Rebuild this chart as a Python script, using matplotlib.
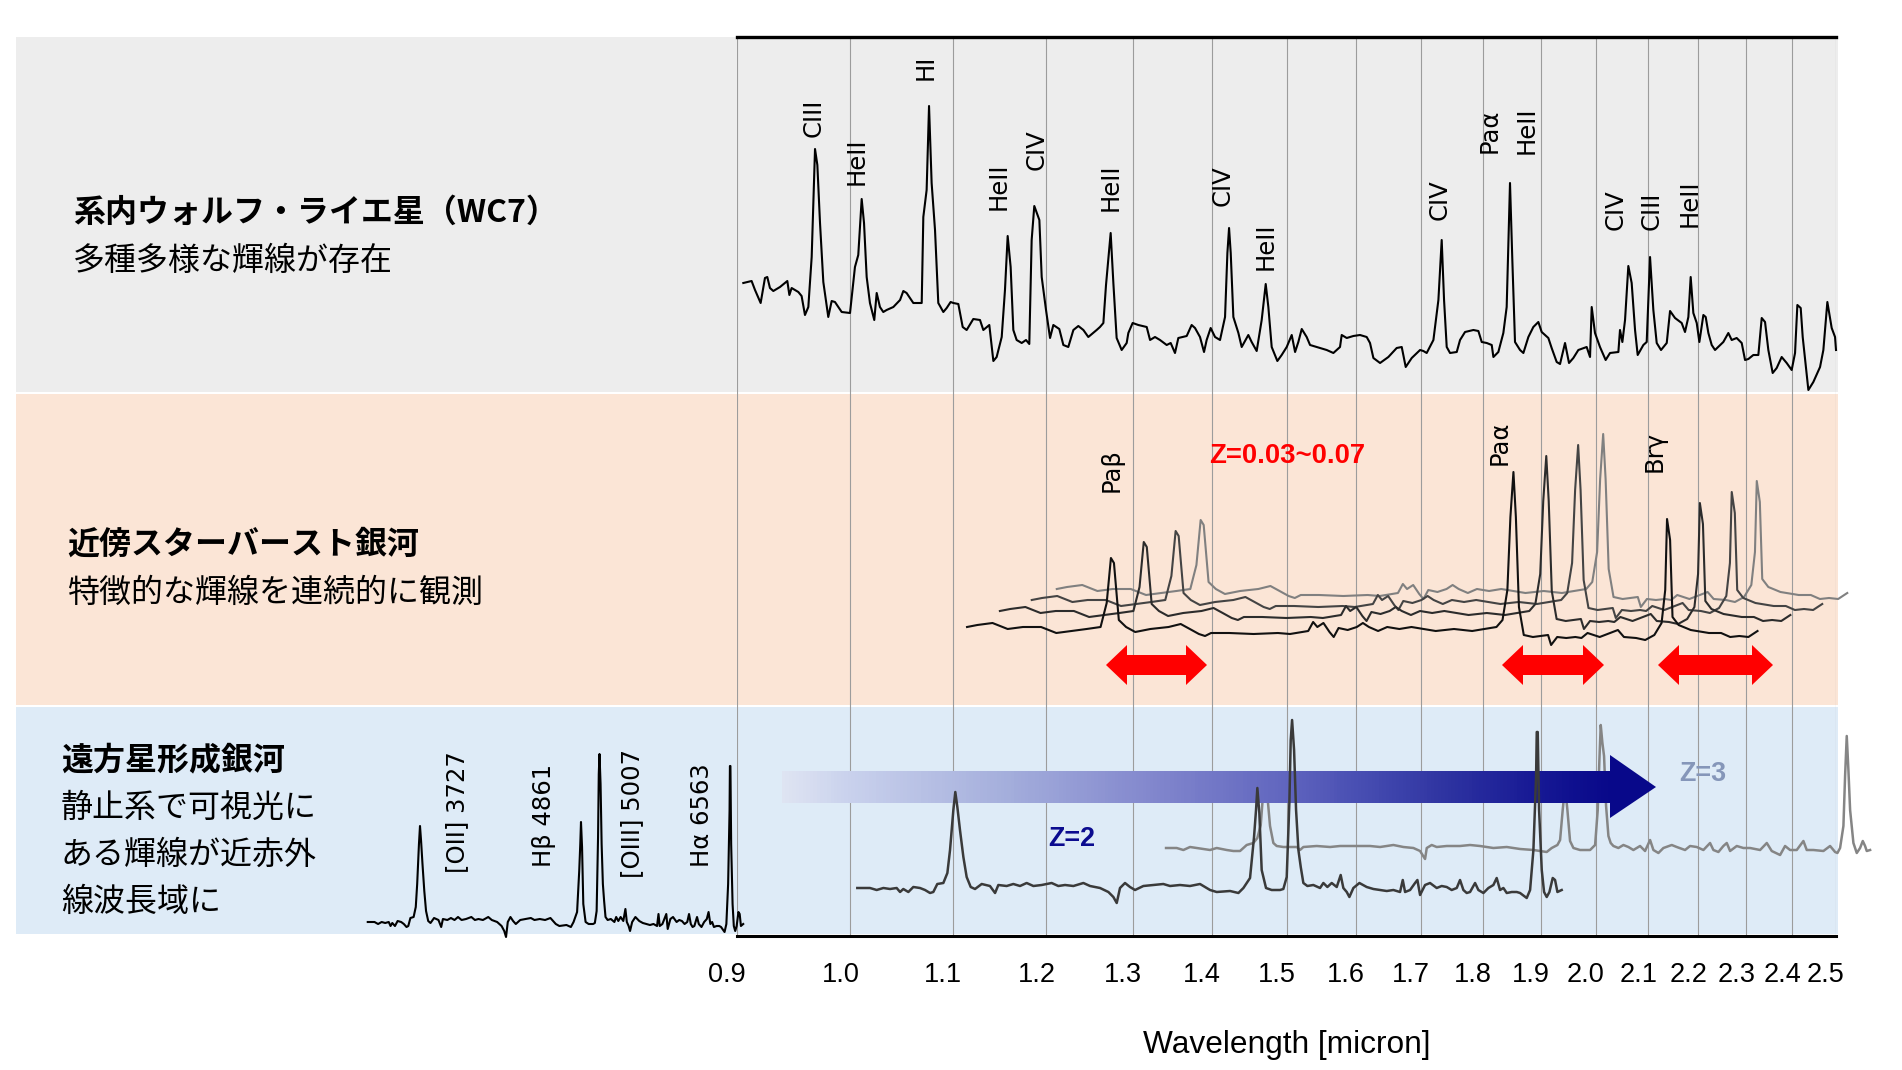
import numpy as np
import matplotlib
matplotlib.use("Agg")
import matplotlib.pyplot as plt
import matplotlib.transforms as mtransforms
from matplotlib import font_manager
from matplotlib.colors import LinearSegmentedColormap
from matplotlib.patches import Rectangle, Polygon
from matplotlib.collections import PolyCollection

# ---------------- data ----------------
# wavelength in micron, flux in arbitrary units (relative to each continuum)

ticks = [0.9, 1.0, 1.1, 1.2, 1.3, 1.4, 1.5, 1.6, 1.7, 1.8, 1.9, 2.0, 2.1, 2.2, 2.3, 2.4, 2.5]

# Wolf-Rayet star (WC7)
wr_wl = [
    0.9053, 0.9123, 0.9152, 0.9200, 0.9237, 0.9257, 0.9280, 0.9309, 0.9367, 0.9431,
    0.9449, 0.9469, 0.9528, 0.9557, 0.9587, 0.9617, 0.9647, 0.9677, 0.9698, 0.9722,
    0.9752, 0.9797, 0.9828, 0.9858, 0.9920, 0.9997, 1.0043, 1.0074, 1.0106, 1.0128,
    1.0153, 1.0184, 1.0225, 1.0248, 1.0279, 1.0311, 1.0343, 1.0408, 1.0473, 1.0505,
    1.0537, 1.0603, 1.0686, 1.0702, 1.0735, 1.0759, 1.0785, 1.0819, 1.0852, 1.0903,
    1.0937, 1.0977, 1.1005, 1.1056, 1.1101, 1.1142, 1.1211, 1.1281, 1.1316, 1.1379,
    1.1422, 1.1457, 1.1511, 1.1546, 1.1575, 1.1607, 1.1636, 1.1672, 1.1727, 1.1774,
    1.1810, 1.1836, 1.1865, 1.1921, 1.1947, 1.1995, 1.2040, 1.2077, 1.2144, 1.2190,
    1.2246, 1.2304, 1.2361, 1.2419, 1.2476, 1.2573, 1.2612, 1.2652, 1.2683, 1.2738,
    1.2770, 1.2809, 1.2869, 1.2929, 1.2949, 1.3001, 1.3070, 1.3172,
    1.3213, 1.3274, 1.3336, 1.3419, 1.3469, 1.3523, 1.3565, 1.3671, 1.3734, 1.3777,
    1.3841, 1.3893, 1.3927, 1.3979, 1.4036, 1.4101, 1.4167, 1.4198, 1.4220, 1.4242,
    1.4277, 1.4344, 1.4388, 1.4477, 1.4522, 1.4590, 1.4658, 1.4713, 1.4749, 1.4795,
    1.4873, 1.4933, 1.5003, 1.5073, 1.5120, 1.5166, 1.5214, 1.5284, 1.5332, 1.5475,
    1.5571, 1.5668, 1.5765, 1.5790, 1.5864, 1.5962, 1.6061, 1.6161, 1.6211, 1.6262,
    1.6363, 1.6490, 1.6618, 1.6696, 1.6758, 1.6852, 1.6983, 1.7035, 1.7088, 1.7195,
    1.7275, 1.7328, 1.7366, 1.7409, 1.7463, 1.7572, 1.7626, 1.7708, 1.7846, 1.7929,
    1.7985, 1.8069, 1.8153, 1.8181,
    1.8265, 1.8350, 1.8407, 1.8464, 1.8504, 1.8550, 1.8637, 1.8695, 1.8782, 1.8869,
    1.8957, 1.9016, 1.9134, 1.9193, 1.9283, 1.9343, 1.9433, 1.9505, 1.9584, 1.9675,
    1.9828, 1.9890, 1.9921, 1.9982, 2.0075, 2.0181, 2.0263, 2.0421, 2.0452, 2.0497,
    2.0548, 2.0611, 2.0675, 2.0740, 2.0791, 2.0901, 2.0966, 2.1031, 2.1096, 2.1162,
    2.1247, 2.1360, 2.1426, 2.1525, 2.1659, 2.1726, 2.1794, 2.1841, 2.1895, 2.1964,
    2.2018, 2.2100, 2.2148, 2.2203, 2.2272, 2.2341, 2.2514, 2.2619, 2.2690, 2.2795,
    2.2902, 2.2973, 2.3044, 2.3151, 2.3259, 2.3332, 2.3404, 2.3476, 2.3571, 2.3659,
    2.3769, 2.3880, 2.3991, 2.4066, 2.4118, 2.4193, 2.4238, 2.4366, 2.4479, 2.4632,
    2.4708, 2.4800, 2.4900, 2.4978, 2.5000,
]
wr_flux = [
    17, 19, 10, -3, 22, 23, 12, 9, 13, 19,
    5, 12, 8, 4, -15, -7, 43, 151, 135, 77,
    18, -17, -1, -2, -12, -13, 33, 45, 101, 77,
    23, -3, -20, 7, -7, -12, -10, -7, 0, 9,
    7, -3, -3, 83, 110, 194, 117, 70, -3, -12,
    -8, -2, -3, -4, -27, -30, -19, -20, -30, -25,
    -61, -57, -37, 10, 64, 33, -30, -40, -43, -40,
    -44, 60, 94, 80, 23, -10, -38, -25, -29, -45,
    -47, -30, -26, -30, -37, -30, -27, -23, 15, 67,
    17, -38, -50, -43, -33, -23, -25, -27,
    -40, -37, -40, -45, -43, -53, -38, -36, -25, -28,
    -37, -52, -40, -28, -37, -40, -17, 47, 72, 47,
    -17, -33, -47, -35, -42, -51, -20, 16, -7, -47,
    -61, -55, -47, -35, -52, -42, -29, -37, -45, -48,
    -50, -53, -47, -35, -38, -36, -35, -37, -43, -58,
    -63, -57, -48, -47, -67, -58, -50, -51, -53, -40,
    0, 60, 0, -47, -53, -52, -40, -32, -30, -31,
    -42, -43, -45, -57,
    -52, -33, -7, 117, 40, -42, -50, -53, -37, -27,
    -22, -32, -38, -48, -62, -64, -43, -63, -58, -50,
    -47, -57, -7, -33, -47, -60, -53, -52, -30, -42,
    -20, 34, 17, -30, -55, -45, -42, 43, -10, -43,
    -50, -43, -11, -18, -23, -32, -17, 23, -13, -23,
    -42, -15, -17, -33, -45, -50, -42, -33, -40, -38,
    -43, -60, -59, -55, -55, -18, -22, -50, -73, -68,
    -57, -63, -70, -53, -5, -8, -37, -90, -82, -67,
    -50, -2, -28, -37, -50,
]
wr_labels = ["CIII", "HeII", "HI", "HeII", "CIV", "HeII", "CIV", "HeII",
             "CIV", "Paα", "HeII", "CIV", "CIII", "HeII"]

# nearby starburst galaxy template, repeated at increasing redshift
sb_wl = [
    1.1146, 1.1253, 1.1413, 1.1575, 1.1740, 1.1940, 1.2110, 1.2282, 1.2456, 1.2619,
    1.2691, 1.2741, 1.2777, 1.2835, 1.2922, 1.3032, 1.3217, 1.3443, 1.3595, 1.3711,
    1.3827, 1.3906, 1.3984, 1.4223, 1.4548, 1.4880, 1.5049, 1.5306, 1.5376, 1.5436,
    1.5524, 1.5612, 1.5673, 1.5744, 1.5878, 1.6013, 1.6104, 1.6195, 1.6333, 1.6472,
    1.6659, 1.6848, 1.7039, 1.7232, 1.7527, 1.7826, 1.8028, 1.8233, 1.8336, 1.8419,
    1.8471, 1.8523, 1.8565, 1.8618, 1.8702, 1.8861, 1.9129, 1.9183, 1.9292, 1.9455,
    1.9621, 1.9732, 1.9844, 2.0069, 2.0412, 2.0527, 2.0761, 2.0937, 2.1115, 2.1258,
    2.1330, 2.1366, 2.1427, 2.1475, 2.1597, 2.1842, 2.2215, 2.2467, 2.2658, 2.2851,
    2.3045, 2.3241,
]
sb_flux = [
    3, 5, 7, 1, 3, 3, -3, -1, 1, 3,
    27, 72, 67, 10, 3, -2, 1, 3, 6, 1,
    -4, -6, -3, -3, -4, -3, -4, -1, 8, 3,
    7, -2, -7, 2, 0, 3, 7, 3, -1, 3,
    1, 3, 1, -1, 1, -1, 1, 3, 10, 40,
    113, 158, 113, 23, -5, -7, -5, -15, -7, -8,
    -7, -8, -3, -7, 0, -7, -8, -10, -5, 7,
    40, 111, 90, 13, 5, 0, -3, -3, -7, -6,
    -7, -1,
]
sb_shift = [1.000, 1.031, 1.062, 1.087]     # relative (1+z) of the four copies
sb_labels = ["Paβ", "Paα", "Brγ"]

# distant star-forming galaxy at z=2
hz2_wl = [
    1.0065, 1.0184, 1.0248, 1.0312, 1.0376, 1.0440, 1.0473, 1.0505, 1.0554, 1.0603,
    1.0669, 1.0719, 1.0769, 1.0802, 1.0842, 1.0903, 1.0944, 1.0971, 1.1005, 1.1025,
    1.1046, 1.1073, 1.1108, 1.1142, 1.1184, 1.1229, 1.1299, 1.1386, 1.1440, 1.1475,
    1.1564, 1.1636, 1.1709, 1.1781, 1.1855, 1.1947, 1.2058, 1.2133, 1.2209, 1.2304,
    1.2419, 1.2496, 1.2613, 1.2711, 1.2770, 1.2810, 1.2849, 1.2909, 1.2969, 1.3030,
    1.3131, 1.3254, 1.3377, 1.3461, 1.3586, 1.3713, 1.3841, 1.3971, 1.4058, 1.4233,
    1.4344, 1.4411, 1.4500, 1.4554, 1.4581, 1.4599, 1.4626, 1.4658, 1.4717, 1.4795,
    1.4910, 1.4956, 1.5003, 1.5040, 1.5059, 1.5078, 1.5106, 1.5134, 1.5167, 1.5200,
    1.5237, 1.5294, 1.5379, 1.5475, 1.5523, 1.5581, 1.5644, 1.5717, 1.5775, 1.5814,
    1.5864, 1.5903, 1.5962, 1.6052, 1.6161, 1.6262, 1.6363, 1.6465, 1.6567, 1.6670,
    1.6712, 1.6748, 1.6826, 1.6904, 1.6941, 1.6983, 1.7062, 1.7141, 1.7248, 1.7328,
    1.7409, 1.7490, 1.7572, 1.7626, 1.7681, 1.7736, 1.7791, 1.7874, 1.7929, 1.8013,
    1.8097, 1.8181, 1.8237, 1.8294, 1.8351, 1.8408, 1.8494, 1.8580, 1.8638, 1.8753,
    1.8812, 1.8870, 1.8917, 1.8929, 1.8946, 1.8970, 1.9017, 1.9058, 1.9105, 1.9153,
    1.9212, 1.9254, 1.9296, 1.9373,
]
hz2_flux = [
    -2, -2, -4, -2, -3, -2, -6, -3, -6, -1,
    -2, -4, -7, -6, 2, 3, 13, 36, 76, 94,
    79, 56, 29, 9, -1, -3, 2, 0, -7, 1,
    0, 2, 0, 3, 0, 1, 3, 0, 1, 0,
    3, 0, -2, -6, -11, -17, -2, 3, -1, -4,
    0, 1, 2, 0, 1, 0, 2, -4, -6, -5,
    -7, -2, 8, 49, 76, 98, 73, 16, -2, -4,
    -4, -3, 9, 83, 146, 166, 136, 76, 36, 19,
    3, 0, 1, -2, 3, -1, 3, -1, 11, -2,
    -6, -11, -2, 3, -1, -3, -4, -5, -4, -6,
    6, -6, -4, 3, 6, -9, 1, 3, -2, 0,
    -1, -4, -2, 6, -4, -7, -6, 3, -4, -7,
    -2, 1, 8, -4, -2, -7, -6, -6, -7, -12,
    -4, 36, 109, 154, 154, 76, 16, -6, -11, -6,
    8, 6, -6, -4,
]
# distant star-forming galaxy at z=3
hz3_wl = [
    1.3411, 1.3544, 1.3629, 1.3713, 1.3799, 1.3971, 1.4058, 1.4189, 1.4277, 1.4366,
    1.4455, 1.4545, 1.4599, 1.4645, 1.4681, 1.4704, 1.4736, 1.4772, 1.4818, 1.4864,
    1.4956, 1.5143, 1.5190, 1.5237, 1.5427, 1.5620, 1.5766, 1.5913, 1.6052, 1.6212,
    1.6363, 1.6465, 1.6567, 1.6722, 1.6878, 1.6983, 1.7062, 1.7089, 1.7168, 1.7248,
    1.7409, 1.7626, 1.7791, 1.7957, 1.8181, 1.8408, 1.8638, 1.8870, 1.9105, 1.9194,
    1.9296, 1.9344, 1.9391, 1.9434, 1.9476, 1.9524, 1.9585, 1.9706, 1.9891, 1.9984,
    2.0033, 2.0064, 2.0089, 2.0120, 2.0151, 2.0189, 2.0233, 2.0276, 2.0327, 2.0421,
    2.0517, 2.0612, 2.0708, 2.0837, 2.0934, 2.1032, 2.1097, 2.1195, 2.1294, 2.1460,
    2.1560, 2.1727, 2.1828, 2.1964, 2.2101, 2.2238, 2.2307, 2.2411, 2.2515, 2.2586,
    2.2656, 2.2797, 2.2938, 2.3081, 2.3297, 2.3442, 2.3550, 2.3734, 2.3844, 2.3955,
    2.4104, 2.4254, 2.4329, 2.4481, 2.4709, 2.4863, 2.4979, 2.5033, 2.5095, 2.5173,
    2.5212, 2.5251, 2.5290, 2.5330, 2.5408, 2.5487, 2.5566, 2.5630, 2.5685, 2.5725,
    2.5805,
]
hz3_flux = [
    -1, -1, -3, 0, -1, -3, -1, -3, -4, -4,
    2, 4, 9, 22, 57, 64, 51, 21, 4, 1,
    0, 0, -3, 0, 1, 0, 1, 1, 1, 1,
    0, 1, 2, 0, -1, -4, -12, -1, 2, 0,
    1, 1, 2, 1, -1, 0, -2, -3, -5, -1,
    2, 7, 37, 61, 37, 6, -1, -3, -3, 2,
    37, 87, 122, 104, 91, 41, 11, 4, 1, -1,
    2, 0, -3, 1, -4, 7, -3, -6, -1, 2,
    0, -3, 1, 0, -3, 4, -3, -5, 1, 4,
    -4, 1, -1, -1, -3, 4, -4, -8, 1, -3,
    -3, 6, -3, -3, -4, 1, -5, -6, -1, 21,
    71, 111, 77, 37, 4, -6, -1, 6, 1, -4,
    -3,
]
z_hi = 2
rest_labels = ["[OII] 3727", "Hβ 4861", "[OIII] 5007", "Hα 6563"]

titles = ["系内ウォルフ・ライエ星（WC7）", "近傍スターバースト銀河", "遠方星形成銀河"]
notes = [["多種多様な輝線が存在"], ["特徴的な輝線を連続的に観測"],
         ["静止系で可視光に", "ある輝線が近赤外", "線波長域に"]]

# ---------------- layout / style ----------------
W, H = 1902, 1070
available = {f.name for f in font_manager.fontManager.ttflist}
if "Liberation Sans Narrow" in available:
    NARROW, nscale = "Liberation Sans Narrow", 1.0
else:
    NARROW, nscale = "Liberation Sans", 0.86
JP = ["Noto Sans CJK JP", "DejaVu Sans"]
plt.rcParams["font.family"] = ["DejaVu Sans"]

WR_BASE, SB_BASE, Z2_BASE, Z3_BASE = 636, 306, 50, 89
sb_offset = [0, 16, 27, 38]
sb_colors = ["#111111", "#2c2c2c", "#444444", "#808080"]

fig = plt.figure(figsize=(W / 100, H / 100), dpi=100)


def box(x0, y0, x1, y1):
    return [x0 / W, 1 - y1 / H, (x1 - x0) / W, (y1 - y0) / H]


# background canvas in pixel units
bg = fig.add_axes([0, 0, 1, 1], zorder=0)
bg.set_xlim(0, W)
bg.set_ylim(H, 0)
bg.axis("off")
px = bg.transData
for (y0, y1), c in zip([(37, 392), (394, 705), (707, 934)], ["#ededed", "#fbe5d6", "#deebf7"]):
    bg.add_patch(Rectangle((16, y0), 1822, y1 - y0, facecolor=c, edgecolor="none"))

# main spectrum axes
ax = fig.add_axes(box(737, 37, 1836, 936), zorder=1)
ax.patch.set_visible(False)
ax.set_xscale("log")
ax.set_xticks(ticks, labels=[f"{t:.1f}" for t in ticks])
ax.minorticks_off()
ax.set_yticks([])
ax.set_xlim(0.9, 2.5)
ax.set_ylim(0, 899)
ax.grid(axis="x", color="#9c9c9c", lw=0.8)
for s in ["left", "right"]:
    ax.spines[s].set_visible(False)
ax.spines["top"].set_linewidth(2.4)
ax.spines["bottom"].set_linewidth(2.2)
ax.tick_params(axis="x", length=0, pad=18.5, labelsize=19.5, labelfontfamily=NARROW)
shift = mtransforms.ScaledTranslation(-10 / 100, 0, fig.dpi_scale_trans)
for lab in ax.get_xticklabels():
    lab.set_transform(lab.get_transform() + shift)
ax.set_xlabel("Wavelength [micron]", fontsize=26.5 * nscale, family=NARROW)
ax.xaxis.set_label_coords(0.5, -(1030 - 936) / 899)

ax.plot(wr_wl, np.array(wr_flux) + WR_BASE, color="black", lw=1.5, zorder=3, clip_on=False)

for i in reversed(range(len(sb_shift))):
    ax.plot(np.array(sb_wl) * sb_shift[i], np.array(sb_flux) + SB_BASE + sb_offset[i],
            color=sb_colors[i], lw=1.5, zorder=3, clip_on=False)

ax.plot(hz3_wl, np.array(hz3_flux) + Z3_BASE, color="#858585", lw=1.8, zorder=2, clip_on=False)

# gradient arrow (between the z=3 and z=2 spectra)
cmap = LinearSegmentedColormap.from_list("zarrow", [
    (0.0, (222 / 255, 228 / 255, 242 / 255)), (0.082, (200 / 255, 208 / 255, 236 / 255)),
    (0.264, (165 / 255, 175 / 255, 220 / 255)), (0.445, (130 / 255, 135 / 255, 205 / 255)),
    (0.614, (95 / 255, 100 / 255, 190 / 255)), (0.698, (72 / 255, 78 / 255, 178 / 255)),
    (0.807, (45 / 255, 50 / 255, 160 / 255)), (0.915, (22 / 255, 24 / 255, 148 / 255)),
    (1.0, (8 / 255, 8 / 255, 138 / 255))])
xs = np.linspace(782, 1611, 240)
strips = [[(a, 771), (b + 1.5, 771), (b + 1.5, 803), (a, 803)] for a, b in zip(xs[:-1], xs[1:])]
ax.add_collection(PolyCollection(strips, facecolors=cmap(np.linspace(0, 1, len(strips))),
                                 edgecolors="none", antialiaseds=False, transform=px, zorder=3),
                  autolim=False)
ax.add_patch(Polygon([(1610, 755), (1656, 787), (1610, 818)], closed=True,
                     facecolor=cmap(1.0), edgecolor="none", transform=px, zorder=3))

ax.plot(hz2_wl, np.array(hz2_flux) + Z2_BASE, color="#3a3a3a", lw=1.8, zorder=4, clip_on=False)

# rest-frame optical view of the z=2 galaxy
ins = fig.add_axes(box(360, 700, 750, 936), zorder=2)
ins.set_xscale("log")
ins.set_xlim(0.33099, 0.65346)
ins.set_ylim(-16, 220)
ins.axis("off")
ins.plot(np.array(hz2_wl) / (1 + z_hi), hz2_flux, color="black", lw=1.5, clip_on=False)

# overlay: texts and red arrows
top = fig.add_axes([0, 0, 1, 1], zorder=5)
top.set_xlim(0, W)
top.set_ylim(H, 0)
top.axis("off")

title_pos = [(73, 213), (67, 545), (61, 760)]
for (x, y), t, lines in zip(title_pos, titles, notes):
    top.text(x, y, t, fontsize=23, fontweight="bold", family=JP, ha="left", va="center")
    for k, line in enumerate(lines):
        top.text(x, y + 48 + 47 * k, line, fontsize=23, family=JP, ha="left", va="center")

wr_lab_pos = [(814, 137), (857, 185), (926, 80), (999, 210), (1037, 170), (1111, 211),
              (1223, 206), (1266, 270), (1440, 220), (1490, 153), (1527, 154),
              (1616, 230), (1652, 230), (1690, 227)]
for (x, y), s in zip(wr_lab_pos, wr_labels):
    top.text(x, y, s, rotation=90, ha="center", va="bottom", fontsize=17.5)

for (x, y), s in zip([(1112, 492), (1500, 465), (1655, 472)], sb_labels):
    top.text(x, y, s, rotation=90, ha="center", va="bottom", fontsize=17.5)

for (x, y), s in zip([(457, 873), (544, 867), (632, 878), (702, 867)], rest_labels):
    top.text(x, y, s, rotation=90, ha="center", va="bottom", fontsize=17.5)


def double_arrow(x0, x1, yc, hl=21, hh=20, sh=10):
    return [(x0, yc), (x0 + hl, yc - hh), (x0 + hl, yc - sh), (x1 - hl, yc - sh),
            (x1 - hl, yc - hh), (x1, yc), (x1 - hl, yc + hh), (x1 - hl, yc + sh),
            (x0 + hl, yc + sh), (x0 + hl, yc + hh)]


for x0, x1 in [(1106, 1207), (1502, 1604), (1658, 1773)]:
    top.add_patch(Polygon(double_arrow(x0, x1, 665), closed=True,
                          facecolor="#ff0000", edgecolor="none"))

top.text(1287, 456, "Z=0.03~0.07", color="#ff0000", fontsize=23 * nscale, fontweight="bold",
         family=NARROW, ha="center", va="center")
top.text(1072, 839, "Z=2", color="#0b0b8f", fontsize=22.5 * nscale, fontweight="bold",
         family=NARROW, ha="center", va="center")
top.text(1703, 774, "Z=3", color="#8596b9", fontsize=22.5 * nscale, fontweight="bold",
         family=NARROW, ha="center", va="center")

fig.savefig("out.png", dpi=100)
